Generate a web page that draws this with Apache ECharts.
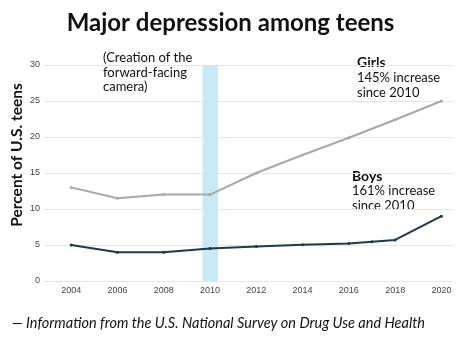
<!DOCTYPE html>
<html>
<head>
<meta charset="utf-8">
<script src="https://cdn.jsdelivr.net/npm/echarts@6/dist/echarts.min.js"></script>
<style>
  html, body { margin: 0; padding: 0; background: #fff; }
  #chart { width: 461px; height: 350px; }
</style>
</head>
<body>
<div id="chart"></div>
<script>
// data
var years = [2004, 2006, 2008, 2010, 2012, 2014, 2016, 2018, 2020];
var girls = [13, 11.5, 12, 12, 15, 17.5, 19.9, 22.4, 25];
var boysYears = [2004, 2006, 2008, 2010, 2012, 2014, 2016, 2017, 2018, 2020];
var boys = [5, 4, 4, 4.5, 4.8, 5.05, 5.2, 5.45, 5.7, 9];
var cameraBand = [2009.68, 2010.35];

function pairs(xs, ys) {
  return xs.map(function (x, i) { return [x, ys[i]]; });
}

var chart = echarts.init(document.getElementById("chart"));
chart.setOption({
  animation: false,
  title: {
    text: "Major depression among teens",
    left: "center",
    top: 6,
    textStyle: {
      fontFamily: "Lato",
      fontWeight: "bold",
      fontSize: 24,
      color: "#111",
    },
  },
  grid: {
    left: 48,
    right: 8,
    top: 65,
    bottom: 69,
  },
  xAxis: {
    type: "value",
    min: 2003,
    max: 2020.5,
    interval: 1,
    axisLine: { show: false },
    axisTick: { show: false },
    splitLine: { show: false },
    axisLabel: {
      fontSize: 9,
      color: "#444",
      margin: 5,
      showMaxLabel: false,
      formatter: function (v) {
        return years.indexOf(v) >= 0 ? String(v) : "";
      },
    },
  },
  yAxis: {
    type: "value",
    min: 0,
    max: 30,
    interval: 5,
    axisLine: { show: false },
    axisTick: { show: true, length: 3, lineStyle: { color: "#ddd" } },
    axisLabel: { fontSize: 9, color: "#444", margin: 8 },
    splitLine: { lineStyle: { color: "#e6e6e6" } },
  },
  series: [
    {
      name: "Girls",
      type: "line",
      data: pairs(years, girls),
      symbol: "circle",
      symbolSize: 3,
      itemStyle: { color: "#a8a8a8" },
      lineStyle: { width: 2, color: "#a8a8a8" },
      markArea: {
        silent: true,
        itemStyle: { color: "#c8e9f5" },
        data: [[{ xAxis: cameraBand[0] }, { xAxis: cameraBand[1] }]],
      },
      z: 3,
    },
    {
      name: "Boys",
      type: "line",
      data: pairs(boysYears, boys),
      symbol: "circle",
      symbolSize: 3,
      itemStyle: { color: "#1d3a4a" },
      lineStyle: { width: 2, color: "#1d3a4a" },
      z: 4,
    },
  ],
  graphic: [
    {
      // y axis title, sits a bit above the plot centre like the original
      type: "text",
      x: 17,
      y: 155,
      rotation: Math.PI / 2,
      style: {
        text: "Percent of U.S. teens",
        font: "bold 15.5px Lato",
        fill: "#111",
        align: "center",
        verticalAlign: "middle",
      },
    },
    {
      type: "text",
      left: 103,
      top: 51,
      style: {
        text: "(Creation of the\nforward-facing\ncamera)",
        font: "13px Lato",
        lineHeight: 14.5,
        fill: "#111",
      },
    },
    {
      type: "text",
      left: 357,
      top: 55,
      style: { text: "Girls", font: "bold 14px Lato", fill: "#111" },
    },
    {
      type: "text",
      left: 357,
      top: 71,
      style: {
        text: "145% increase\nsince 2010",
        font: "13px Lato",
        lineHeight: 14.5,
        fill: "#111",
      },
    },
    {
      type: "text",
      left: 352,
      top: 169,
      style: { text: "Boys", font: "bold 14px Lato", fill: "#111" },
    },
    {
      type: "text",
      left: 352,
      top: 184,
      style: {
        text: "161% increase\nsince 2010",
        font: "13px Lato",
        lineHeight: 14.5,
        fill: "#111",
      },
    },
    {
      type: "text",
      left: 12,
      top: 316,
      style: {
        text: "\u2014 Information from the U.S. National Survey on Drug Use and Health",
        font: "italic 14.5px Lato",
        fill: "#111",
      },
    },
  ],
});
</script>
</body>
</html>
